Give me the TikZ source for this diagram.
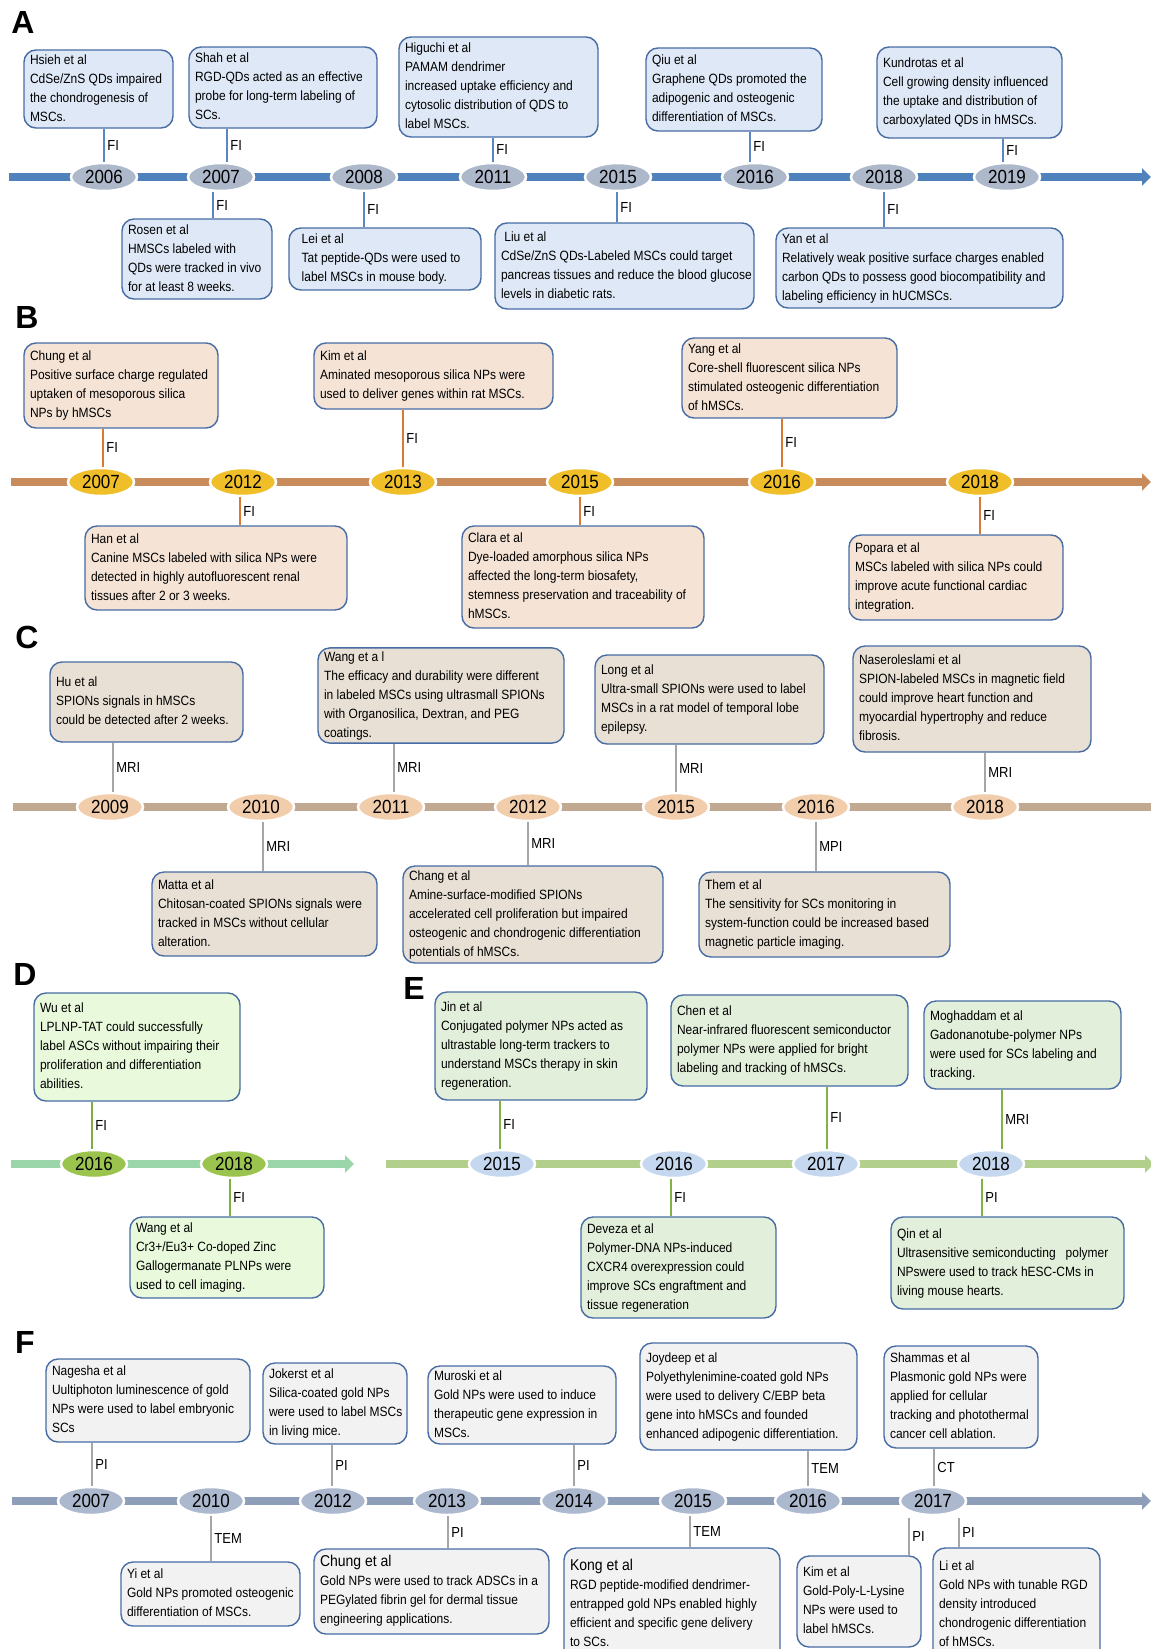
\documentclass[tikz,border=0pt]{standalone}
\usepackage{fontspec}
\usepackage{graphicx}
\setmainfont{Liberation Sans}
\usetikzlibrary{shapes.geometric,arrows.meta}
\definecolor{bdr}{RGB}{72,108,164}
\definecolor{lnA}{RGB}{79,129,189}
\definecolor{elA}{RGB}{173,184,203}
\definecolor{bxA}{RGB}{222,232,246}
\definecolor{cnA}{RGB}{90,135,195}
\definecolor{lnB}{RGB}{200,140,92}
\definecolor{elB}{RGB}{240,190,40}
\definecolor{bxB}{RGB}{245,227,213}
\definecolor{cnB}{RGB}{214,122,52}
\definecolor{lnC}{RGB}{192,168,145}
\definecolor{elC}{RGB}{242,205,172}
\definecolor{bxC}{RGB}{232,224,213}
\definecolor{cnC}{RGB}{166,166,166}
\definecolor{lnD}{RGB}{155,214,170}
\definecolor{elD}{RGB}{155,196,78}
\definecolor{bxD}{RGB}{232,249,220}
\definecolor{cnD}{RGB}{125,175,70}
\definecolor{lnE}{RGB}{179,207,140}
\definecolor{elE}{RGB}{197,216,239}
\definecolor{bxE}{RGB}{226,239,218}
\definecolor{cnE}{RGB}{130,178,70}
\definecolor{lnF}{RGB}{143,158,184}
\definecolor{elF}{RGB}{172,184,206}
\definecolor{bxF}{RGB}{242,242,242}
\definecolor{cnF}{RGB}{166,166,166}
\newcommand\vs[1]{\scalebox{1}[1.12]{#1}}
\newcommand\tbox[7]{\node[tbx,fill=#1,minimum width={#5-#3},minimum height={#6-#4}] (#2) at ({(#3+#5)/2},{(#4+#6)/2}) {\makebox[\dimexpr#5pt-#3pt-12pt\relax][l]{\vs{\begin{tabular}{@{}l@{}}#7\end{tabular}}}};}
\newcommand\upc[5]{\path ([xshift=#4pt]#3.north) coordinate (c#2); \draw[con,#1] (c#2) -- (c#2 |- #2.south) node[midway,lbl]{\vs{#5}};}
\newcommand\dnc[5]{\path ([xshift=#4pt]#3.south) coordinate (c#2); \draw[con,#1] (c#2) -- (c#2 |- #2.north) node[midway,lbl]{\vs{#5}};}
\newcommand\yrnode[4]{\node[yr,fill=#1] (#2) at (#3) {\vs{#4}};}
\begin{document}
\begin{tikzpicture}[x=1pt,y=-1pt,
 tbx/.style={rectangle, rounded corners=12pt, draw=bdr, line width=1.4pt, inner xsep=6pt, inner ysep=0pt, font=\fontsize{12}{17}\selectfont, text=black},
 yr/.style={ellipse, minimum width=66pt, minimum height=28pt, inner sep=0pt, draw=white, line width=2.5pt, font=\fontsize{17}{17}\selectfont},
 tl/.style={line width=8pt},
 tlarrow/.style={-{Triangle[length=9pt,width=17pt]}},
 con/.style={line width=1.8pt},
 lbl/.style={font=\fontsize{13}{13}\selectfont, inner sep=2.5pt, anchor=west, text=black},
 plet/.style={font=\fontsize{32}{32}\selectfont\bfseries}]
\path[fill=white,use as bounding box] (0,0) rectangle (1151,1649);

% ---------------- A ----------------
\node[plet] (lA) at (23,22) {A};
\coordinate (aS) at (9,177); \coordinate (aE) at (1151,177);
\draw[tl,lnA,tlarrow] (aS) -- (aE);
\yrnode{elA}{a06}{104,177}{2006}
\yrnode{elA}{a07}{221,177}{2007}
\yrnode{elA}{a08}{364,177}{2008}
\yrnode{elA}{a11}{493,177}{2011}
\yrnode{elA}{a15}{618,177}{2015}
\yrnode{elA}{a16}{755,177}{2016}
\yrnode{elA}{a18}{884,177}{2018}
\yrnode{elA}{a19}{1007,177}{2019}
\tbox{bxA}{hsieh}{24}{50}{173}{128}{Hsieh et al\\CdSe/ZnS QDs impaired\\the chondrogenesis of\\MSCs.}
\tbox{bxA}{shah}{189}{47}{377}{128}{Shah et al\\RGD-QDs acted as an effective\\probe for long-term labeling of\\SCs.}
\tbox{bxA}{higuchi}{399}{37}{598}{137}{Higuchi et al\\PAMAM dendrimer\\increased uptake efficiency and\\cytosolic distribution of QDS to\\label MSCs.}
\tbox{bxA}{qiu}{646}{48}{822}{131}{Qiu et al\\Graphene QDs promoted the\\adipogenic and osteogenic\\differentiation of MSCs.}
\tbox{bxA}{kundrotas}{877}{47}{1062}{138}{Kundrotas et al\\Cell growing density influenced\\the uptake and distribution of\\carboxylated QDs in hMSCs.}
\tbox{bxA}{rosen}{122}{219}{272}{299}{Rosen et al\\HMSCs labeled with\\QDs were tracked in vivo\\for at least 8 weeks.}
\tbox{bxA}{lei}{289}{228}{481}{290}{\ \ Lei et al\\\ \ Tat peptide-QDs were used to\\\ \ label MSCs in mouse body.}
\tbox{bxA}{liu}{495}{223}{754}{309}{\ Liu et al\\CdSe/ZnS QDs-Labeled MSCs could target\\pancreas tissues and reduce the blood glucose\\levels in diabetic rats.}
\tbox{bxA}{yan}{776}{228}{1063}{308}{Yan et al\\Relatively weak positive surface charges enabled\\carbon QDs to possess good biocompatibility and\\labeling efficiency in hUCMSCs.}
\upc{cnA}{hsieh}{a06}{0}{FI}
\upc{cnA}{shah}{a07}{6}{FI}
\upc{cnA}{higuchi}{a11}{0}{FI}
\upc{cnA}{qiu}{a16}{-5}{FI}
\upc{cnA}{kundrotas}{a19}{-4}{FI}
\dnc{cnA}{rosen}{a07}{-8}{FI}
\dnc{cnA}{lei}{a08}{0}{FI}
\dnc{cnA}{liu}{a15}{-1}{FI}
\dnc{cnA}{yan}{a18}{0}{FI}

% ---------------- B ----------------
\node[plet] (lB) at (27,317) {B};
\coordinate (bS) at (11,482); \coordinate (bE) at (1151,482);
\draw[tl,lnB,tlarrow] (bS) -- (bE);
\yrnode{elB}{b07}{101,482}{2007}
\yrnode{elB}{b12}{243,482}{2012}
\yrnode{elB}{b13}{403,482}{2013}
\yrnode{elB}{b15}{580,482}{2015}
\yrnode{elB}{b16}{782,482}{2016}
\yrnode{elB}{b18}{980,482}{2018}
\tbox{bxB}{chungB}{24}{343}{218}{428}{Chung et al\\Positive surface charge regulated\\uptaken of mesoporous silica\\NPs by hMSCs}
\tbox{bxB}{kimB}{314}{343}{553}{409}{Kim et al\\Aminated mesoporous silica NPs were\\used to deliver genes within rat MSCs.}
\tbox{bxB}{yangB}{682}{338}{897}{418}{Yang et al\\Core-shell fluorescent silica NPs\\stimulated osteogenic differentiation\\of hMSCs.}
\tbox{bxB}{hanB}{85}{526}{347}{610}{Han et al\\Canine MSCs labeled with silica NPs were\\detected in highly autofluorescent renal\\tissues after 2 or 3 weeks.}
\tbox{bxB}{claraB}{462}{526}{704}{628}{Clara et al\\Dye-loaded amorphous silica NPs\\affected the long-term biosafety,\\stemness preservation and traceability of\\hMSCs.}
\tbox{bxB}{poparaB}{849}{535}{1063}{620}{Popara et al\\MSCs labeled with silica NPs could\\improve acute functional cardiac\\integration.}
\upc{cnB}{chungB}{b07}{2}{FI}
\upc{cnB}{kimB}{b13}{0}{FI}
\upc{cnB}{yangB}{b16}{0}{FI}
\dnc{cnB}{hanB}{b12}{-3}{FI}
\dnc{cnB}{claraB}{b15}{0}{FI}
\dnc{cnB}{poparaB}{b18}{0}{FI}

% ---------------- C ----------------
\node[plet] (lC) at (27,637) {C};
\coordinate (cS) at (13,807); \coordinate (cE) at (1160,807);
\draw[tl,lnC,tlarrow] (cS) -- (cE);
\yrnode{elC}{c09}{110,807}{2009}
\yrnode{elC}{c10}{261,807}{2010}
\yrnode{elC}{c11}{391,807}{2011}
\yrnode{elC}{c12}{528,807}{2012}
\yrnode{elC}{c15}{676,807}{2015}
\yrnode{elC}{c16}{816,807}{2016}
\yrnode{elC}{c18}{985,807}{2018}
\tbox{bxC}{hu}{50}{662}{243}{742}{Hu et al\\SPIONs signals in hMSCs\\could be detected after 2 weeks.}
\tbox{bxC}{wangC}{318}{648}{564}{743}{Wang et a l\\The efficacy and durability were different\\in labeled MSCs using ultrasmall SPIONs\\with Organosilica, Dextran, and PEG\\coatings.}
\tbox{bxC}{long}{595}{655}{824}{744}{Long et al\\Ultra-small SPIONs were used to label\\MSCs in a rat model of temporal lobe\\epilepsy.}
\tbox{bxC}{nas}{853}{646}{1091}{752}{Naseroleslami et al\\SPION-labeled MSCs in magnetic field\\could improve heart function and\\myocardial hypertrophy and reduce\\fibrosis.}
\tbox{bxC}{matta}{152}{872}{377}{956}{Matta et al\\Chitosan-coated SPIONs signals were\\tracked in MSCs without cellular\\alteration.}
\tbox{bxC}{chang}{403}{866}{663}{963}{Chang et al\\Amine-surface-modified SPIONs\\accelerated cell proliferation but impaired\\osteogenic and chondrogenic differentiation\\potentials of hMSCs.}
\tbox{bxC}{them}{699}{872}{950}{957}{Them et al\\The sensitivity for SCs monitoring in\\system-function could be increased based\\magnetic particle imaging.}
\upc{cnC}{hu}{c09}{3}{MRI}
\upc{cnC}{wangC}{c11}{3}{MRI}
\upc{cnC}{long}{c15}{0}{MRI}
\upc{cnC}{nas}{c18}{0}{MRI}
\dnc{cnC}{matta}{c10}{2}{MRI}
\dnc{cnC}{chang}{c12}{0}{MRI}
\dnc{cnC}{them}{c16}{0}{MPI}

% ---------------- D ----------------
\node[plet] (lD) at (25,974) {D};
\coordinate (dS) at (11,1164); \coordinate (dE) at (354,1164);
\draw[tl,lnD,tlarrow] (dS) -- (dE);
\yrnode{elD}{d16}{94,1164}{2016}
\yrnode{elD}{d18}{234,1164}{2018}
\tbox{bxD}{wu}{34}{993}{240}{1101}{Wu et al\\LPLNP-TAT could successfully\\label ASCs without impairing their\\proliferation and differentiation\\abilities.}
\tbox{bxD}{wangD}{130}{1217}{324}{1298}{Wang et al\\Cr3+/Eu3+ Co-doped Zinc\\Gallogermanate PLNPs were\\used to cell imaging.}
\upc{cnD}{wu}{d16}{-2}{FI}
\dnc{cnD}{wangD}{d18}{-4}{FI}

% ---------------- E ----------------
\node[plet] (lE) at (414,988) {E};
\coordinate (eS) at (386,1164); \coordinate (eE) at (1154,1164);
\draw[tl,lnE,tlarrow] (eS) -- (eE);
\yrnode{elE}{e15}{502,1164}{2015}
\yrnode{elE}{e16}{674,1164}{2016}
\yrnode{elE}{e17}{826,1164}{2017}
\yrnode{elE}{e18}{991,1164}{2018}
\tbox{bxE}{jin}{435}{992}{647}{1100}{Jin et al\\Conjugated polymer NPs acted as\\ultrastable long-term trackers to\\understand MSCs therapy in skin\\regeneration.}
\tbox{bxE}{chen}{671}{995}{908}{1086}{Chen et al\\Near-infrared fluorescent semiconductor\\polymer NPs were applied for bright\\labeling and tracking of hMSCs.}
\tbox{bxE}{mogh}{924}{1001}{1121}{1089}{Moghaddam et al\\Gadonanotube-polymer NPs\\were used for SCs labeling and\\tracking.}
\tbox{bxE}{deveza}{581}{1217}{776}{1318}{Deveza et al\\Polymer-DNA NPs-induced\\CXCR4 overexpression could\\improve SCs engraftment and\\tissue regeneration}
\tbox{bxE}{qin}{891}{1217}{1124}{1309}{Qin et al\\Ultrasensitive semiconducting\ \ \ polymer\\NPswere used to track hESC-CMs in\\living mouse hearts.}
\upc{cnE}{jin}{e15}{-2}{FI}
\upc{cnE}{chen}{e17}{1}{FI}
\upc{cnE}{mogh}{e18}{11}{MRI}
\dnc{cnE}{deveza}{e16}{-3}{FI}
\dnc{cnE}{qin}{e18}{-9}{PI}

% ---------------- F ----------------
\node[plet] (lF) at (25,1342) {F};
\coordinate (fS) at (12,1501); \coordinate (fE) at (1151,1501);
\draw[tl,lnF,tlarrow] (fS) -- (fE);
\yrnode{elF}{f07}{91,1501}{2007}
\yrnode{elF}{f10}{211,1501}{2010}
\yrnode{elF}{f12}{333,1501}{2012}
\yrnode{elF}{f13}{447,1501}{2013}
\yrnode{elF}{f14}{574,1501}{2014}
\yrnode{elF}{f15}{693,1501}{2015}
\yrnode{elF}{f16}{808,1501}{2016}
\yrnode{elF}{f17}{933,1501}{2017}
\tbox{bxF}{nagesha}{46}{1359}{250}{1442}{Nagesha et al\\Uultiphoton luminescence of gold\\NPs were used to label embryonic\\SCs}
\tbox{bxF}{jokerst}{263}{1363}{407}{1444}{Jokerst et al\\Silica-coated gold NPs\\were used to label MSCs\\in living mice.}
\tbox{bxF}{muroski}{428}{1366}{616}{1444}{Muroski et al\\Gold NPs were used to induce\\therapeutic gene expression in\\MSCs.}
\tbox{bxF}{joydeep}{640}{1343}{857}{1450}{Joydeep et al\\Polyethylenimine-coated gold NPs\\were used to delivery C/EBP beta\\gene into hMSCs and founded\\enhanced adipogenic differentiation.}
\tbox{bxF}{shammas}{884}{1346}{1038}{1448}{Shammas et al\\Plasmonic gold NPs were\\applied for cellular\\tracking and photothermal\\cancer cell ablation.}
\tbox{bxF}{yi}{121}{1562}{300}{1626}{Yi et al\\Gold NPs promoted osteogenic\\differentiation of MSCs.}
\tbox{bxF}{chungF}{314}{1549}{549}{1634}{{\fontsize{14}{17}\selectfont Chung et al}\\Gold NPs were used to track ADSCs in a\\PEGylated fibrin gel for dermal tissue\\engineering applications.}
\tbox{bxF}{kong}{564}{1548}{780}{1662}{{\fontsize{14}{17}\selectfont Kong et al}\\RGD peptide-modified dendrimer-\\entrapped gold NPs enabled highly\\efficient and specific gene delivery\\to SCs.}
\tbox{bxF}{kimF}{797}{1556}{921}{1647}{Kim et al\\Gold-Poly-L-Lysine\\NPs were used to\\label hMSCs.}
\tbox{bxF}{li}{933}{1548}{1100}{1662}{Li et al\\Gold NPs with tunable RGD\\density introduced\\chondrogenic differentiation\\of hMSCs.}
\upc{cnF}{nagesha}{f07}{1}{PI}
\upc{cnF}{jokerst}{f12}{-1}{PI}
\upc{cnF}{muroski}{f14}{0}{PI}
\upc{cnF}{joydeep}{f16}{0}{TEM}
\upc{cnF}{shammas}{f17}{1}{CT}
\dnc{cnF}{yi}{f10}{0}{TEM}
\dnc{cnF}{chungF}{f13}{1}{PI}
\dnc{cnF}{kong}{f15}{-3}{TEM}
\coordinate (kimFc) at (909,1518);
\draw[con,cnF] (kimFc) -- (kimFc |- kimF.north) node[midway,lbl]{\vs{PI}};
\coordinate (liFc) at (959,1518);
\draw[con,cnF] (liFc) -- (liFc |- li.north) node[midway,lbl]{\vs{PI}};
\end{tikzpicture}
\end{document}
